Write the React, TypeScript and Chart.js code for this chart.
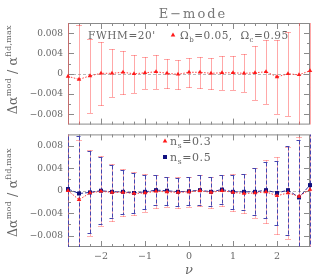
import React, { useEffect, useRef } from 'react';
import { Chart, registerables } from 'chart.js';
Chart.register(...registerables);

// ---------- data ----------
const nu = [-2.75, -2.5, -2.25, -2, -1.75, -1.5, -1.25, -1, -0.75, -0.5, -0.25, 0, 0.25, 0.5, 0.75, 1, 1.25, 1.5, 1.75, 2, 2.25, 2.5, 2.75];

// top panel: Omega_b=0.05, Omega_c=0.95
const omegaCenter = [-0.0005, -0.0011, -0.0004, 0.0001, 0.0001, 0.0003, 0.0, 0.0002, 0.0004, 0.0001, -0.0001, 0.0003, 0.0003, 0.0001, 0.0002, 0.0002, 0.0001, 0.0002, 0.0004, -0.0006, 0.0, -0.0002, 0.0006];
const omegaErr = [0.02, 0.0108, 0.0073, 0.0062, 0.0047, 0.0042, 0.0037, 0.0031, 0.0033, 0.0028, 0.0029, 0.0029, 0.0031, 0.0031, 0.0033, 0.0033, 0.0037, 0.0053, 0.0063, 0.0073, 0.0083, 0.013, 0.02];

// bottom panel: n_s=0.3 (red) and n_s=0.5 (blue)
const ns03Center = [0.0, -0.0016, -0.0004, -0.0001, -0.0003, -0.0003, -0.0005, -0.0004, -0.0001, -0.0002, -0.0003, -0.0002, 0.0, -0.0003, 0.0, -0.0003, -0.0005, -0.0004, -0.0002, -0.0009, -0.0004, -0.001, 0.0002];
const ns03Err = [0.02, 0.0106, 0.0076, 0.0062, 0.005, 0.0042, 0.0038, 0.0034, 0.0029, 0.0027, 0.0027, 0.0027, 0.0028, 0.0028, 0.0028, 0.0033, 0.0035, 0.0044, 0.0056, 0.0068, 0.0082, 0.0105, 0.02];
const ns05Center = [0.0003, -0.0005, -0.0003, 0.0, -0.0002, -0.0002, -0.0004, -0.0002, 0.0001, 0.0, -0.0002, -0.0001, 0.0001, -0.0002, 0.0002, -0.0002, -0.0002, -0.0002, 0.0001, -0.0004, 0.0001, -0.0012, 0.001];
const ns05Err = [0.02, 0.0102, 0.0073, 0.006, 0.0047, 0.0039, 0.0036, 0.003, 0.0027, 0.0025, 0.0025, 0.0025, 0.0026, 0.0026, 0.0026, 0.003, 0.0032, 0.0042, 0.005, 0.0057, 0.0079, 0.0102, 0.02];

const yTickValues = [-0.008, -0.004, 0, 0.004, 0.008];
const xTickValues = [-2, -1, 0, 1, 2];

const FONT = '"DejaVu Serif", serif';
const RED = '#ff1a1a';
const BLUE = '#101080';

type Part = { t: string; sub?: boolean; sup?: boolean; italic?: boolean };

function richWidth(ctx: CanvasRenderingContext2D, parts: Part[], size: number, small: number) {
  let w = 0;
  for (const p of parts) {
    const s = p.sub || p.sup ? small : size;
    ctx.font = `${p.italic ? 'italic ' : ''}${s}px ${FONT}`;
    w += ctx.measureText(p.t).width;
  }
  return w;
}

function drawRich(ctx: CanvasRenderingContext2D, parts: Part[], x: number, y: number, size: number, small: number, color: string, spacing: number) {
  ctx.save();
  ctx.fillStyle = color;
  ctx.textBaseline = 'alphabetic';
  ctx.textAlign = 'left';
  (ctx as any).letterSpacing = spacing + 'px';
  let cx = x;
  for (const p of parts) {
    const s = p.sub || p.sup ? small : size;
    ctx.font = `${p.italic ? 'italic ' : ''}${s}px ${FONT}`;
    const dy = p.sub ? size * 0.3 : p.sup ? -size * 0.45 : 0;
    ctx.fillText(p.t, cx, y + dy);
    cx += ctx.measureText(p.t).width;
  }
  ctx.restore();
}

function drawYTitle(chart: any, shift: number) {
  const { ctx, chartArea: a } = chart;
  const parts: Part[] = [{ t: 'Δα' }, { t: 'mod', sup: true }, { t: ' / ' }, { t: 'α' }, { t: 'fid,max', sup: true }];
  ctx.save();
  (ctx as any).letterSpacing = '0.2px';
  const w = richWidth(ctx, parts, 12.5, 8);
  const cy = (a.top + a.bottom) / 2 + shift;
  ctx.translate(17, cy);
  ctx.rotate(-Math.PI / 2);
  drawRich(ctx, parts, -w / 2, 0, 12.5, 8, '#666', 0.2);
  ctx.restore();
}

const framePlugin = {
  id: 'frameAndErrors',
  beforeDatasetsDraw(chart: any) {
    const { ctx, chartArea: a, scales } = chart;
    const xs = scales.x, ys = scales.y;
    ctx.save();
    // zero line
    const y0 = Math.round(ys.getPixelForValue(0)) + 0.5;
    ctx.strokeStyle = '#b8b8b8';
    ctx.lineWidth = 1;
    ctx.setLineDash([3, 2]);
    ctx.beginPath();
    ctx.moveTo(a.left, y0);
    ctx.lineTo(a.right, y0);
    ctx.stroke();
    ctx.setLineDash([]);
    // frame
    ctx.strokeStyle = '#8a8a8a';
    ctx.strokeRect(a.left + 0.5, a.top + 0.5, a.right - a.left - 1, a.bottom - a.top - 1);
    // tick marks inward
    ctx.beginPath();
    for (let k = -10; k <= 10; k++) {
      const v = k * 0.25;
      const px = Math.round(xs.getPixelForValue(v)) + 0.5;
      const L = k % 4 === 0 ? 6 : 3;
      ctx.moveTo(px, a.top);
      ctx.lineTo(px, a.top + L);
      ctx.moveTo(px, a.bottom);
      ctx.lineTo(px, a.bottom - L);
    }
    for (let k = -4; k <= 4; k++) {
      const v = k * 0.002;
      const py = Math.round(ys.getPixelForValue(v)) + 0.5;
      const L = k % 2 === 0 ? 6 : 3;
      ctx.moveTo(a.left, py);
      ctx.lineTo(a.left + L, py);
      ctx.moveTo(a.right, py);
      ctx.lineTo(a.right - L, py);
    }
    ctx.stroke();
    // error bars
    ctx.beginPath();
    ctx.rect(a.left - 1, a.top, a.right - a.left + 2, a.bottom - a.top);
    ctx.clip();
    chart.data.datasets.forEach((ds: any) => {
      const err: number[] = ds.errors;
      if (!err) return;
      ctx.strokeStyle = ds.errColor;
      ctx.setLineDash(ds.errDash);
      ctx.lineWidth = 1;
      ds.data.forEach((p: any, j: number) => {
        const x = Math.round(xs.getPixelForValue(p.x)) + 0.5;
        const yt = Math.round(ys.getPixelForValue(p.y + err[j])) + 0.5;
        const yb = Math.round(ys.getPixelForValue(p.y - err[j])) + 0.5;
        ctx.beginPath();
        ctx.moveTo(x, yt);
        ctx.lineTo(x, yb);
        ctx.moveTo(x - 3, yt);
        ctx.lineTo(x + 3, yt);
        ctx.moveTo(x - 3, yb);
        ctx.lineTo(x + 3, yb);
        ctx.stroke();
      });
    });
    ctx.restore();
  },
};

function triangle(ctx: CanvasRenderingContext2D, x: number, y: number, color: string) {
  ctx.fillStyle = color;
  ctx.beginPath();
  ctx.moveTo(x, y - 2.5);
  ctx.lineTo(x + 2.3, y + 1.6);
  ctx.lineTo(x - 2.3, y + 1.6);
  ctx.closePath();
  ctx.fill();
}

const topTextPlugin = {
  id: 'topText',
  afterDraw(chart: any) {
    const { ctx } = chart;
    ctx.save();
    // title
    ctx.font = `13px ${FONT}`;
    (ctx as any).letterSpacing = '2px';
    ctx.fillStyle = '#777';
    ctx.textAlign = 'center';
    ctx.textBaseline = 'alphabetic';
    ctx.fillText('E−mode', 193, 18);
    ctx.restore();
    drawRich(ctx, [{ t: "FWHM=20'" }], 88, 39, 10.5, 7, '#666', 0.6);
    triangle(ctx, 173, 35, RED);
    drawRich(ctx, [{ t: 'Ω' }, { t: 'b', sub: true }, { t: '=0.05,  Ω' }, { t: 'c', sub: true }, { t: '=0.95' }], 180, 39, 10.5, 7, '#666', 0.5);
    drawYTitle(chart, -4);
  },
};

const OFF = 124;
const botTextPlugin = {
  id: 'botText',
  afterDraw(chart: any) {
    const { ctx } = chart;
    triangle(ctx, 165, 141 - OFF, RED);
    drawRich(ctx, [{ t: 'n' }, { t: 's', sub: true }, { t: '=0.3' }], 170, 145 - OFF, 11, 7.5, '#666', 0.6);
    ctx.fillStyle = BLUE;
    ctx.fillRect(163, 155 - OFF, 4, 4);
    drawRich(ctx, [{ t: 'n' }, { t: 's', sub: true }, { t: '=0.5' }], 170, 161 - OFF, 11, 7.5, '#666', 0.6);
    ctx.save();
    ctx.font = `italic 13px ${FONT}`;
    ctx.fillStyle = '#666';
    ctx.textAlign = 'center';
    ctx.textBaseline = 'alphabetic';
    ctx.fillText('ν', 189, 274 - OFF);
    ctx.restore();
    drawYTitle(chart, 2);
  },
};

const fmtY = (v: number) => (v === 0 ? '0' : (v < 0 ? '−' : '') + Math.abs(v).toFixed(3));
const fmtX = (v: number) => (v < 0 ? '−' + Math.abs(v) : String(v));

function makeOptions(kind: 'top' | 'bot'): any {
  return {
    responsive: false,
    animation: false,
    devicePixelRatio: 1,
    layout: { padding: kind === 'top' ? { top: 23, right: 9, bottom: 6, left: 0 } : { top: 5, right: 9, bottom: 0, left: 0 } },
    plugins: { legend: { display: false }, tooltip: { enabled: false }, title: { display: false } },
    scales: {
      x: {
        type: 'linear',
        min: -2.75,
        max: 2.75,
        display: kind === 'bot',
        grid: { display: false, drawTicks: false },
        border: { display: false },
        afterBuildTicks: (s: any) => { s.ticks = xTickValues.map((v) => ({ value: v })); },
        afterFit: (s: any) => { s.height = kind === 'bot' ? 30 : 0; },
        ticks: { padding: 4, font: { family: FONT, size: 9.5 }, color: '#666', callback: (v: any) => fmtX(Number(v)), maxRotation: 0, autoSkip: false },
      },
      y: {
        type: 'linear',
        min: -0.01,
        max: 0.01,
        grid: { display: false, drawTicks: false },
        border: { display: false },
        afterBuildTicks: (s: any) => { s.ticks = yTickValues.map((v) => ({ value: v })); },
        afterFit: (s: any) => { s.width = 68; },
        ticks: { padding: 5, font: { family: FONT, size: 9 }, color: '#666', callback: (v: any) => fmtY(Number(v)), autoSkip: false },
      },
    },
  };
}

function series(center: number[], err: number[], o: any) {
  return {
    data: nu.map((x, i) => ({ x, y: center[i] })),
    errors: err,
    borderWidth: 1,
    pointBorderWidth: 0,
    tension: 0,
    clip: false,
    ...o,
  };
}

export default function App() {
  const topRef = useRef<HTMLCanvasElement>(null);
  const botRef = useRef<HTMLCanvasElement>(null);
  useEffect(() => {
    const top = new Chart(topRef.current as HTMLCanvasElement, {
      type: 'line',
      data: {
        datasets: [
          series(omegaCenter, omegaErr, {
            label: 'Ωb=0.05, Ωc=0.95',
            errColor: '#ff5050', errDash: [1, 1],
            borderColor: '#ff4040', borderDash: [1.5, 1.5],
            pointStyle: 'triangle', pointRadius: 2.6,
            pointBackgroundColor: RED, pointBorderColor: RED,
          }),
        ] as any,
      },
      options: makeOptions('top'),
      plugins: [framePlugin, topTextPlugin],
    } as any);
    const bot = new Chart(botRef.current as HTMLCanvasElement, {
      type: 'line',
      data: {
        datasets: [
          series(ns03Center, ns03Err, {
            label: 'ns=0.3',
            errColor: '#ff6060', errDash: [1, 1],
            borderColor: '#ff4040', borderDash: [1.5, 1.5],
            pointStyle: 'triangle', pointRadius: 2.6,
            pointBackgroundColor: RED, pointBorderColor: RED,
          }),
          series(ns05Center, ns05Err, {
            label: 'ns=0.5',
            errColor: '#4545b0', errDash: [4, 2],
            borderColor: '#2a2a9a', borderDash: [4, 2],
            pointStyle: 'rect', pointRadius: 2.8,
            pointBackgroundColor: BLUE, pointBorderColor: BLUE,
          }),
        ] as any,
      },
      options: makeOptions('bot'),
      plugins: [framePlugin, botTextPlugin],
    } as any);
    return () => { top.destroy(); bot.destroy(); };
  }, []);
  return (
    <div style={{ position: 'absolute', left: 0, top: 0, width: 319, height: 277, background: '#fff' }}>
      <canvas ref={topRef} width={319} height={135} style={{ position: 'absolute', left: 0, top: 0 }} />
      <canvas ref={botRef} width={319} height={153} style={{ position: 'absolute', left: 0, top: OFF }} />
    </div>
  );
}
